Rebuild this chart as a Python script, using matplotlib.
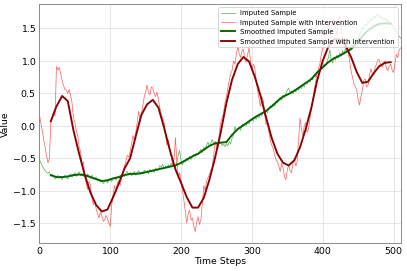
import numpy as np
import matplotlib
matplotlib.use("Agg")
import matplotlib.pyplot as plt

# raw samples (every 2 time steps)
raw_steps = list(range(0, 512, 2))
imputed = [
    -0.52, -0.57, -0.62, -0.66, -0.69, -0.72, -0.73, -0.71, -0.78, -0.75,
    -0.77, -0.82, -0.80, -0.76, -0.81, -0.78, -0.83, -0.79, -0.76, -0.80,
    -0.82, -0.77, -0.74, -0.79, -0.76, -0.72, -0.78, -0.74, -0.71, -0.77,
    -0.73, -0.78, -0.75, -0.80, -0.74, -0.77, -0.81, -0.76, -0.80, -0.83,
    -0.79, -0.85, -0.82, -0.87, -0.84, -0.89, -0.86, -0.83, -0.88, -0.84,
    -0.81, -0.86, -0.82, -0.79, -0.84, -0.78, -0.81, -0.76, -0.79, -0.74,
    -0.78, -0.73, -0.70, -0.76, -0.72, -0.77, -0.74, -0.70, -0.76, -0.72,
    -0.69, -0.75, -0.71, -0.74, -0.68, -0.72, -0.69, -0.74, -0.67, -0.71,
    -0.68, -0.72, -0.65, -0.69, -0.66, -0.61, -0.64, -0.59, -0.66, -0.62,
    -0.65, -0.60, -0.63, -0.58, -0.62, -0.59, -0.64, -0.56, -0.45, -0.38,
    -0.55, -0.60, -0.53, -0.56, -0.50, -0.54, -0.47, -0.52, -0.48, -0.44,
    -0.47, -0.42, -0.45, -0.40, -0.36, -0.41, -0.33, -0.37, -0.30, -0.25,
    -0.32, -0.27, -0.21, -0.28, -0.24, -0.29, -0.25, -0.22, -0.27, -0.31,
    -0.28, -0.32, -0.27, -0.31, -0.24, -0.28, -0.19, -0.15, -0.01, -0.08,
    -0.06, -0.02, -0.07, 0.02, -0.01, 0.04, 0.00, 0.06, 0.03, 0.08,
    0.11, 0.07, 0.14, 0.10, 0.16, 0.12, 0.19, 0.15, 0.21, 0.17,
    0.24, 0.20, 0.27, 0.31, 0.28, 0.34, 0.30, 0.37, 0.35, 0.41,
    0.44, 0.40, 0.47, 0.43, 0.50, 0.55, 0.58, 0.51, 0.54, 0.49,
    0.56, 0.52, 0.58, 0.55, 0.61, 0.57, 0.63, 0.60, 0.67, 0.64,
    0.70, 0.67, 0.74, 0.71, 0.78, 0.75, 0.83, 0.80, 0.86, 0.91,
    0.88, 0.95, 0.92, 0.99, 1.05, 1.17, 1.02, 0.97, 1.06, 1.01,
    1.09, 1.04, 1.12, 1.07, 1.16, 1.10, 1.19, 1.14, 1.22, 1.17,
    1.25, 1.22, 1.30, 1.27, 1.35, 1.32, 1.41, 1.45, 1.52, 1.48,
    1.56, 1.53, 1.61, 1.58, 1.65, 1.62, 1.69, 1.66, 1.72, 1.68,
    1.70, 1.65, 1.68, 1.63, 1.67, 1.61, 1.64, 1.58, 1.60, 1.55,
    1.52, 1.48, 1.45, 1.41, 1.38, 1.35,
]
intervention = [
    0.17, 0.04, -0.08, -0.21, -0.33, -0.46, -0.57, -0.50, 0.06, 0.14,
    0.22, 0.15, 0.91, 0.86, 0.90, 0.80, 0.70, 0.62, 0.56, 0.55,
    0.50, 0.56, 0.46, 0.35, 0.12, 0.05, -0.08, -0.15, -0.32, -0.40,
    -0.60, -0.55, -0.78, -0.88, -0.98, -0.85, -0.92, -1.10, -1.22, -1.15,
    -1.28, -1.35, -1.42, -1.33, -1.38, -1.47, -1.45, -1.38, -1.43, -1.50,
    -1.55, -1.22, -1.05, -0.92, -1.02, -0.88, -0.85, -0.92, -0.78, -0.70,
    -0.62, -0.55, -0.45, -0.48, -0.40, -0.28, -0.15, -0.22, -0.10, 0.05,
    0.22, 0.10, 0.18, 0.32, 0.45, 0.52, 0.63, 0.50, 0.48, 0.60,
    0.58, 0.50, 0.45, 0.52, 0.40, 0.28, 0.18, 0.12, 0.05, -0.12,
    -0.30, -0.22, -0.35, -0.48, -0.60, -0.52, -0.18, -0.55, -0.80, -0.72,
    -0.85, -1.00, -1.15, -1.32, -1.50, -1.35, -1.30, -1.45, -1.42, -1.55,
    -1.63, -1.48, -1.40, -1.52, -1.45, -1.20, -0.92, -1.00, -0.85, -0.80,
    -0.75, -0.68, -0.65, -0.45, -0.25, -0.32, -0.35, -0.12, 0.05, 0.12,
    0.20, 0.35, 0.45, 0.58, 0.70, 0.80, 0.85, 1.00, 0.95, 1.10,
    1.22, 1.12, 1.05, 1.15, 1.18, 1.02, 0.98, 1.10, 1.20, 1.00,
    0.85, 0.95, 0.90, 0.70, 0.55, 0.42, 0.30, 0.45, 0.40, 0.18,
    0.02, 0.05, -0.10, -0.22, -0.30, -0.35, -0.45, -0.52, -0.55, -0.62,
    -0.70, -0.58, -0.65, -0.78, -0.83, -0.68, -0.60, -0.70, -0.72, -0.58,
    -0.50, -0.62, -0.55, -0.20, 0.12, -0.05, -0.15, 0.00, 0.05, -0.10,
    -0.05, 0.12, 0.25, 0.40, 0.55, 0.68, 0.80, 0.88, 0.95, 1.10,
    1.20, 1.25, 1.30, 1.45, 1.55, 1.50, 1.45, 1.60, 1.65, 1.50,
    1.40, 1.62, 1.70, 1.52, 1.35, 1.28, 1.20, 1.25, 1.15, 1.00,
    0.85, 0.75, 0.65, 0.60, 0.55, 0.40, 0.32, 0.45, 0.55, 0.70,
    0.72, 0.60, 0.62, 0.78, 0.88, 0.80, 0.78, 0.90, 0.95, 1.02,
    1.02, 0.92, 0.90, 0.98, 1.00, 0.88, 0.85, 0.92, 0.95, 0.86,
    0.82, 0.95, 1.10, 1.05, 1.17, 1.20,
]

# smoothed curves (every 8 time steps)
smooth_steps = list(range(16, 497, 8))
smoothed_imputed = [
    -0.76, -0.79, -0.79, -0.78, -0.76, -0.75, -0.76, -0.79, -0.82, -0.85,
    -0.84, -0.81, -0.79, -0.76, -0.74, -0.74, -0.73, -0.71, -0.69, -0.67,
    -0.65, -0.63, -0.61, -0.57, -0.52, -0.47, -0.43, -0.37, -0.31, -0.27,
    -0.26, -0.25, -0.14, -0.05, 0.01, 0.07, 0.13, 0.18, 0.23, 0.30,
    0.38, 0.45, 0.49, 0.54, 0.60, 0.66, 0.72, 0.82, 0.90, 0.98,
    1.04, 1.08, 1.13, 1.18, 1.28, 1.38, 1.47, 1.53, 1.57, 1.58,
    1.57,
]
smoothed_intervention = [
    0.07, 0.30, 0.46, 0.38, -0.07, -0.43, -0.76, -1.03, -1.22, -1.32,
    -1.29, -1.10, -0.89, -0.66, -0.50, -0.16, 0.17, 0.33, 0.40, 0.28,
    -0.03, -0.37, -0.67, -0.88, -1.10, -1.26, -1.26, -1.11, -0.83, -0.49,
    -0.10, 0.35, 0.71, 0.95, 1.06, 0.99, 0.76, 0.47, 0.13, -0.19,
    -0.43, -0.57, -0.61, -0.53, -0.33, -0.05, 0.28, 0.69, 1.00, 1.22,
    1.33, 1.33, 1.24, 1.06, 0.83, 0.66, 0.68, 0.81, 0.92, 0.97,
    0.98,
]

plt.rcParams['font.family'] = 'DejaVu Sans'
fig = plt.figure(figsize=(6, 4), dpi=407 / 6)
ax = fig.add_axes([0.097, 0.102, 0.889, 0.883])

ax.plot(raw_steps, imputed, color='green', alpha=0.6, lw=0.8, label='Imputed Sample')
ax.plot(raw_steps, intervention, color='red', alpha=0.6, lw=0.8,
        label='Imputed Sample with Intervention')
ax.plot(smooth_steps, smoothed_imputed, color='darkgreen', lw=2,
        label='Smoothed Imputed Sample')
ax.plot(smooth_steps, smoothed_intervention, color='darkred', lw=2,
        label='Smoothed Imputed Sample with Intervention')

ax.set_xlim(0, 511)
ax.set_ylim(-1.81, 1.88)
ax.set_xticks([0, 100, 200, 300, 400, 500])
ax.set_yticks([-1.5, -1.0, -0.5, 0.0, 0.5, 1.0, 1.5])
ax.grid(True, color='#e3e3e3', lw=0.9)
ax.set_axisbelow(True)
for s in ax.spines.values():
    s.set_color('#888888')
    s.set_linewidth(1.0)
ax.tick_params(length=0, labelsize=10, pad=4)
ax.set_xlabel('Time Steps', fontsize=10, labelpad=1)
ax.set_ylabel('Value', fontsize=10, labelpad=3)
ax.legend(loc='upper right', fontsize=7.3, framealpha=0.8)

fig.savefig('out.png', dpi=407 / 6)
